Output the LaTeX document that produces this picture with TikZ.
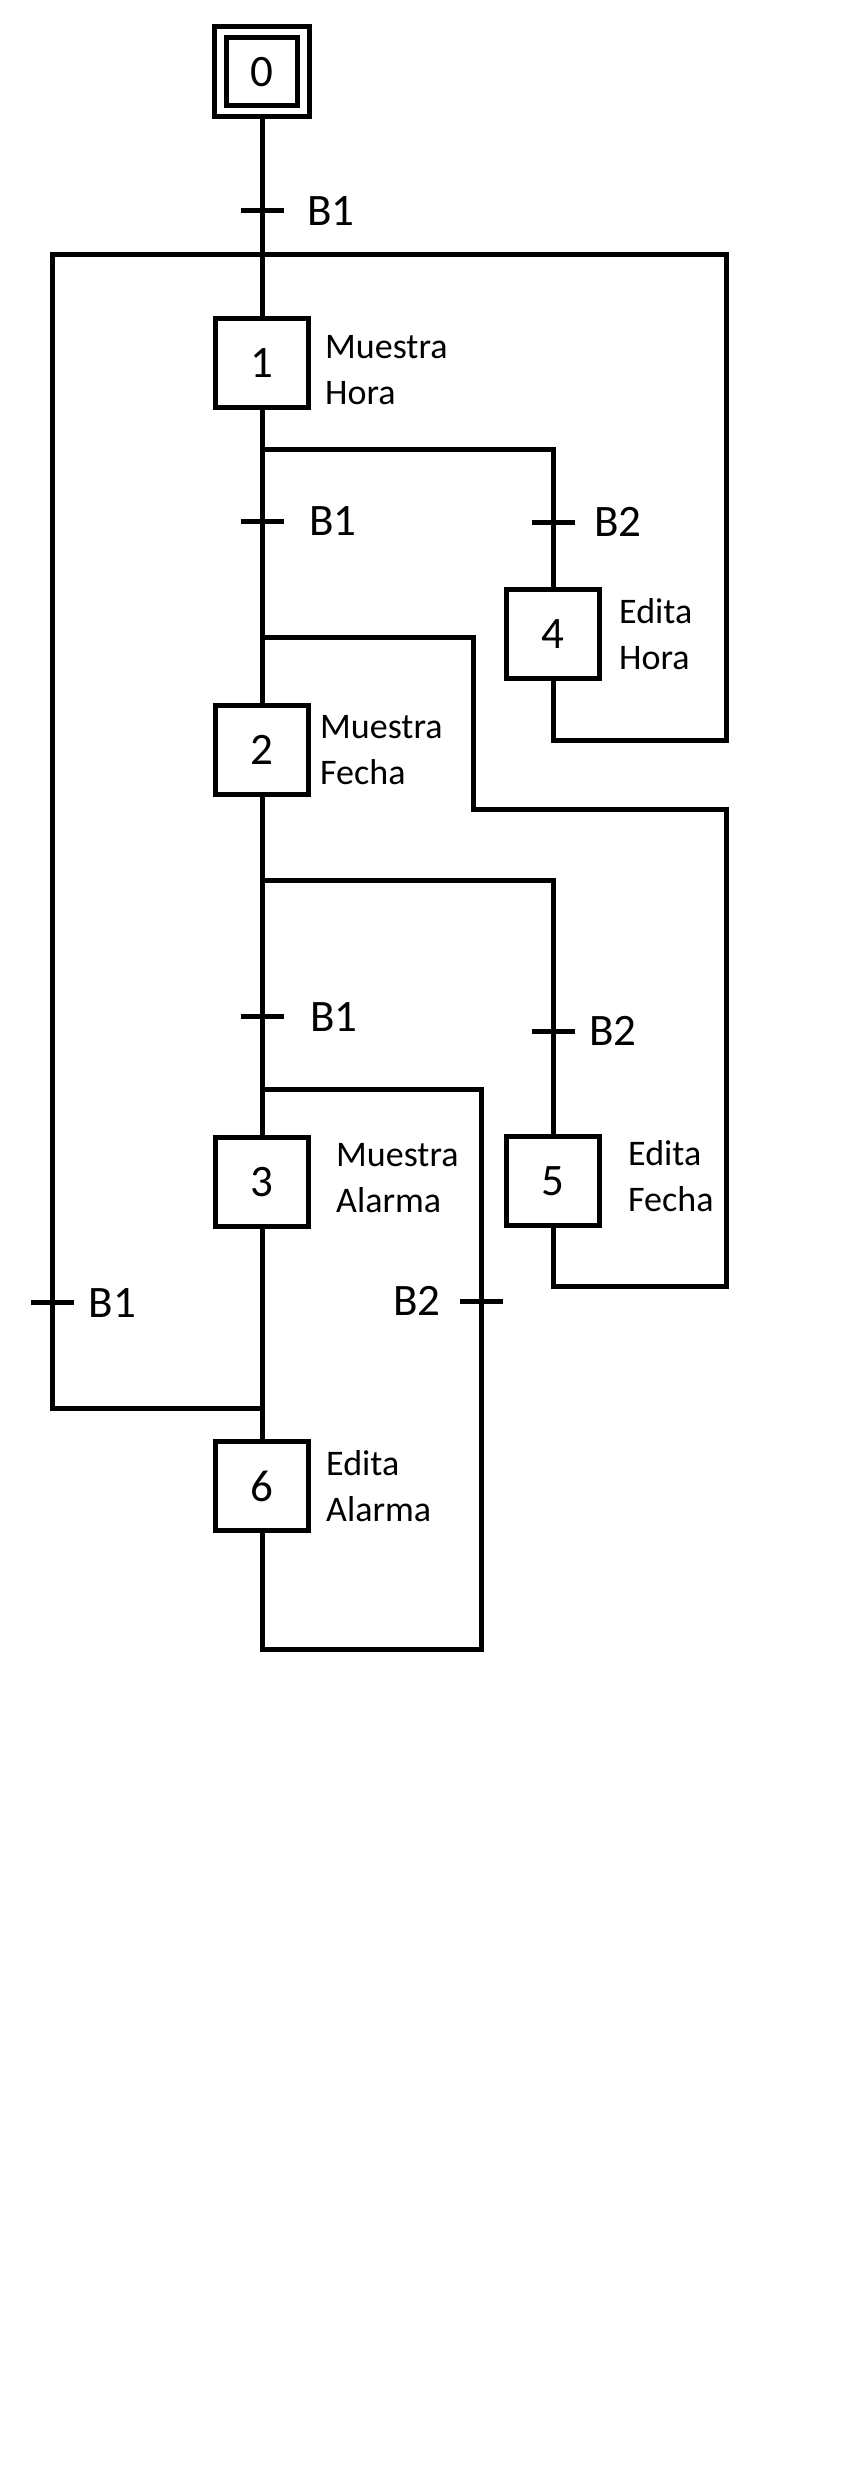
\documentclass[tikz,border=0pt]{standalone}
\usepackage{fontspec}
\setmainfont{Carlito}
\usetikzlibrary{positioning}

\tikzset{
  etapa/.style={draw,line width=5pt,minimum width=93pt,minimum height=89pt,inner sep=0pt,font=\fontsize{45}{50}\selectfont},
  inicial/.style={etapa,double,double distance=6.5pt,minimum width=83pt,minimum height=79pt},
  accion/.style={inner sep=0pt,align=left,font=\fontsize{36}{46}\selectfont},
  receptividad/.style={inner sep=0pt,font=\fontsize{45}{50}\selectfont},
  enlace/.style={line width=5pt}
}

\begin{document}
\begin{tikzpicture}[x=1pt,y=-1pt]
  \useasboundingbox (0,0) rectangle (844,2476);
  \node[inicial] (s0) at (262,71.7) {0};
  \node[etapa] (s1) at (262,362.8) {1};
  \node[etapa] (s2) at (262,750) {2};
  \node[etapa] (s3) at (262,1182) {3};
  \node[etapa] (s4) at (553,633.7) {4};
  \node[etapa] (s5) at (553,1181) {5};
  \node[etapa] (s6) at (262,1486) {6};

  \node[accion,right=14pt of s1,yshift=-7pt] (a1) {Muestra\\Hora};
  \node[accion,right=9pt of s2] (a2) {Muestra\\Fecha};
  \node[accion,right=25pt of s3,yshift=4pt] (a3) {Muestra\\Alarma};
  \node[accion,right=17pt of s4] (a4) {Edita\\Hora};
  \node[accion,right=26pt of s5,yshift=5pt] (a5) {Edita\\Fecha};
  \node[accion,right=15pt of s6] (a6) {Edita\\Alarma};

  \coordinate (t01) at (262,210.7);
  \coordinate (t12) at (262,521.4);
  \coordinate (t14) at (553,522);
  \coordinate (t23) at (262,1016.8);
  \coordinate (t25) at (553,1031);
  \coordinate (t61) at (52.5,1302.7);
  \coordinate (t63) at (481.7,1301.2);
  \coordinate (jA) at (262,254.5);
  \coordinate (jB) at (262,637);
  \coordinate (jC) at (262,1089.6);
  \coordinate (j6) at (262,1408);
  \coordinate (b1) at (262,449.3);
  \coordinate (b2) at (262,880.4);
  \coordinate (r4) at (726.5,740);
  \coordinate (r5a) at (726.5,1286.7);
  \coordinate (r5b) at (473.6,809.6);
  \coordinate (r6) at (481.7,1649.5);

  \draw[enlace] (s0) -- (s1);
  \draw[enlace] (s1) -- (s2);
  \draw[enlace] (s2) -- (s3);
  \draw[enlace] (s3) -- (s6);
  \draw[enlace] (b1) -| (s4);
  \draw[enlace] (b2) -| (s5);
  \draw[enlace] (s4) |- (r4) |- (jA);
  \draw[enlace] (jA) -| (t61) |- (j6);
  \draw[enlace] (s5) |- (r5a) |- (r5b) |- (jB);
  \draw[enlace] (s6) |- (r6) |- (jC);
  \foreach \t in {t01,t12,t14,t23,t25,t61,t63}
    \draw[enlace] ([xshift=-21.5pt]\t) -- ([xshift=21.5pt]\t);

  \node[receptividad,right=45pt of t01] (l01) {B1};
  \node[receptividad,right=47pt of t12] (l12) {B1};
  \node[receptividad,right=41pt of t14] (l14) {B2};
  \node[receptividad,right=48pt of t23] (l23) {B1};
  \node[receptividad,right=36pt of t25] (l25) {B2};
  \node[receptividad,right=36pt of t61] (l61) {B1};
  \node[receptividad,left=41pt of t63] (l63) {B2};
\end{tikzpicture}
\end{document}
